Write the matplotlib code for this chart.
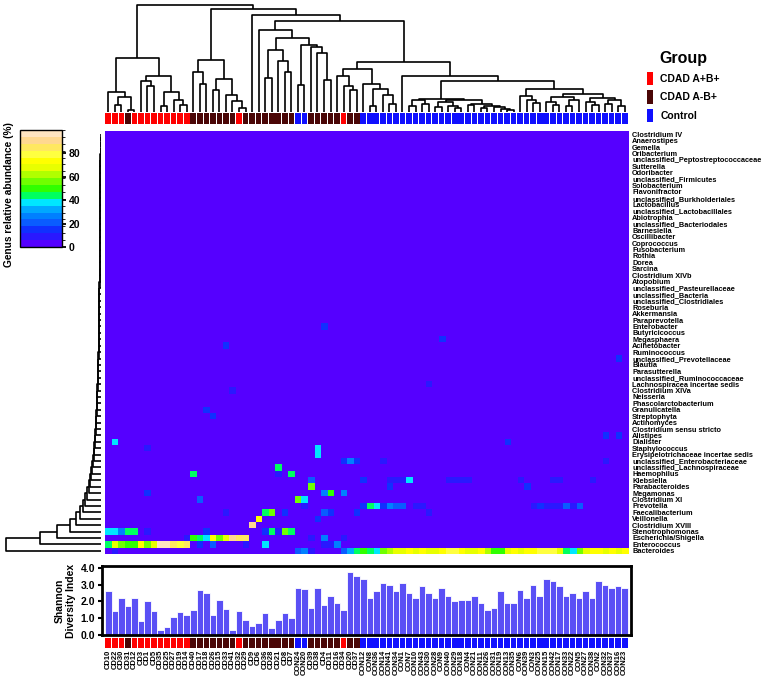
import numpy as np
import matplotlib.pyplot as plt
from matplotlib.colors import ListedColormap, BoundaryNorm
from matplotlib.patches import Patch
from matplotlib.ticker import FormatStrFormatter

plt.rcParams['font.family'] = ['Liberation Sans', 'DejaVu Sans']
plt.rcParams['font.weight'] = 'bold'

# ---- data ----
genera = ['Clostridium IV', 'Anaerostipes', 'Gemella', 'Oribacterium',
          'unclassified_Peptostreptococcaceae', 'Sutterella', 'Odoribacter',
          'unclassified_Firmicutes', 'Solobacterium', 'Flavonifractor',
          'unclassified_Burkholderiales', 'Lactobacillus', 'unclassified_Lactobacillales',
          'Abiotrophia', 'unclassified_Bacteriodales', 'Barnesiella', 'Oscillibacter',
          'Coprococcus', 'Fusobacterium', 'Rothia', 'Dorea', 'Sarcina', 'Clostridium XIVb',
          'Atopobium', 'unclassified_Pasteurellaceae', 'unclassified_Bacteria',
          'unclassified_Clostridiales', 'Roseburia', 'Akkermansia', 'Paraprevotella',
          'Enterobacter', 'Butyricicoccus', 'Megasphaera', 'Acinetobacter', 'Ruminococcus',
          'unclassified_Prevotellaceae', 'Blautia', 'Parasutterella',
          'unclassified_Ruminococcaceae', 'Lachnospiracea incertae sedis', 'Clostridium XIVa',
          'Neisseria', 'Phascolarctobacterium', 'Granulicatella', 'Streptophyta',
          'Actinomyces', 'Clostridium sensu stricto', 'Alistipes', 'Dialister',
          'Staphylococcus', 'Erysipelotrichaceae incertae sedis',
          'unclassified_Enterobacteriaceae', 'unclassified_Lachnospiraceae', 'Haemophilus',
          'Klebsiella', 'Parabacteroides', 'Megamonas', 'Clostridium XI', 'Prevotella',
          'Faecalibacterium', 'Veillonella', 'Clostridium XVIII', 'Stenotrophomonas',
          'Escherichia/Shigella', 'Enterococcus', 'Bacteroides']

samples = ['CD10', 'CD22', 'CD30', 'CD31', 'CD12', 'CD3', 'CD1', 'CD5', 'CD35', 'CD25',
           'CD27', 'CD19', 'CD14', 'CD40', 'CD17', 'CD18', 'CD26', 'CD15', 'CD33', 'CD41',
           'CD32', 'CD29', 'CD9', 'CD6', 'CD36', 'CD28', 'CD21', 'CD8', 'CD7', 'CON24',
           'CON20', 'CD39', 'CD38', 'CD4', 'CD11', 'CD16', 'CD34', 'CD20', 'CD37',
           'CON12', 'CON8', 'CON36', 'CON14', 'CON41', 'CON34', 'CON1', 'CON7', 'CON10',
           'CON43', 'CON30', 'CON28', 'CON9', 'CON40', 'CON29', 'CON18', 'CON4', 'CON21',
           'CON11', 'CON26', 'CON31', 'CON19', 'CON13', 'CON35', 'CON6', 'CON39', 'CON3',
           'CON25', 'CON15', 'CON42', 'CON17', 'CON33', 'CON22', 'CON5', 'CON27', 'CON38',
           'CON2', 'CON32', 'CON37', 'CON16', 'CON23']

# R = CDAD A+B+, D = CDAD A-B+, B = Control
groups = 'RRRDRRRRRRRRRDDDDDDDRDDDDDDDDBBDDDDDRDD' + 'BBBBBBBBBBBBBBBBBBBBBBBBBBBBBBBBBBBBBBBBB'

shannon = [2.6, 1.45, 2.2, 1.7, 2.2, 0.85, 2.0, 1.45, 0.3, 0.5, 1.05, 1.35, 1.2, 1.5, 2.65, 2.5,
           1.2, 2.1, 1.55, 0.3, 1.4, 0.9, 0.55, 0.7, 1.3, 0.4, 0.9, 1.3, 1.0, 2.8, 2.75, 1.6,
           2.8, 1.8, 2.3, 1.9, 1.5, 3.75, 3.5, 3.3, 2.2, 2.6, 3.1, 3.0, 2.6, 3.1, 2.5, 2.2,
           2.9, 2.5, 2.2, 2.8, 2.3, 2.0, 2.1, 2.1, 2.3, 1.9, 1.5, 1.6, 2.6, 1.9, 1.9, 2.7,
           2.2, 3.0, 2.3, 3.3, 3.2, 2.9, 2.3, 2.5, 2.2, 2.6, 2.2, 3.2, 3.0, 2.8, 2.9, 2.8]

bacteroides = [3, 6, 2, 0, 5, 0, 2, 4, 0, 0, 2, 3, 0, 1, 0, 3, 0, 2, 0, 0,
               0, 1, 0, 0, 3, 0, 0, 2, 0, 22, 28, 10, 5, 2, 0, 1, 18, 30, 42,
               48, 45, 38, 55, 62, 70, 68, 72, 65, 75, 70, 66, 72, 78, 80, 74, 70, 68, 72, 60,
               52, 48, 66, 74, 70, 76, 72, 80, 78, 82, 70, 45, 40, 55, 68, 72, 75, 70, 74, 68, 72]
enterococcus = [45, 68, 58, 48, 48, 72, 58, 68, 95, 95, 85, 82, 88,
                0, 12, 0, 18, 0, 0, 0, 0, 8, 0, 0, 38, 0, 0, 0, 0,
                0, 0, 0, 0, 8, 8, 25, 0, 0, 0,
                0, 0, 0, 0, 0, 0, 0, 0, 0, 0, 0, 0, 0, 0, 0, 0, 0, 0, 0, 0,
                0, 0, 0, 0, 0, 0, 0, 0, 0, 0, 0, 0, 0, 0, 0, 0, 0, 0, 0, 0, 0]
escherichia = [0, 0, 0, 0, 0, 0, 0, 0, 0, 0, 0, 0, 8,
               50, 45, 38, 72, 58, 68, 92, 85, 86, 0, 0, 0, 0, 0, 0, 0,
               0, 0, 8, 0, 25, 0, 0, 8, 0, 0,
               0, 0, 0, 0, 0, 0, 0, 0, 0, 0, 0, 0, 0, 0, 0, 0, 0, 0, 0, 0,
               0, 0, 0, 0, 0, 0, 0, 0, 0, 0, 0, 0, 0, 0, 0, 0, 0, 0, 0, 0, 0]
stenotrophomonas = [38, 38, 28, 45, 45, 0, 8, 0, 0, 0, 0, 0, 0,
                    0, 0, 12, 0, 0, 0, 0, 0, 0, 0, 0, 12, 45, 10, 55, 45,
                    0, 0, 0, 0, 0, 0, 0, 0, 0, 0,
                    0, 0, 0, 0, 0, 0, 0, 0, 0, 0, 0, 0, 0, 0, 0, 0, 0, 0, 0, 0,
                    0, 0, 0, 0, 0, 0, 0, 0, 0, 0, 0, 0, 0, 0, 0, 0, 0, 0, 0, 0, 0]

# other non-zero cells: (genus, sample column, abundance %)
other_cells = [
    ('Enterobacter', 33, 15), ('Acinetobacter', 18, 12), ('Megasphaera', 51, 12),
    ('unclassified_Prevotellaceae', 78, 12), ('Lachnospiracea incertae sedis', 49, 10),
    ('Granulicatella', 15, 15), ('Streptophyta', 16, 14), ('Clostridium XIVa', 19, 10),
    ('Dialister', 1, 38), ('Dialister', 61, 12), ('Alistipes', 76, 12), ('Alistipes', 78, 14),
    ('Staphylococcus', 6, 8), ('Staphylococcus', 32, 38),
    ('Erysipelotrichaceae incertae sedis', 32, 38),
    ('unclassified_Enterobacteriaceae', 36, 12), ('unclassified_Enterobacteriaceae', 37, 28),
    ('unclassified_Enterobacteriaceae', 38, 12), ('unclassified_Enterobacteriaceae', 42, 8),
    ('unclassified_Enterobacteriaceae', 76, 8),
    ('unclassified_Lachnospiraceae', 26, 45),
    ('Haemophilus', 13, 45), ('Haemophilus', 26, 10), ('Haemophilus', 28, 45),
    ('Klebsiella', 31, 20), ('Klebsiella', 39, 12), ('Klebsiella', 43, 8), ('Klebsiella', 44, 8),
    ('Klebsiella', 45, 8), ('Klebsiella', 46, 38), ('Klebsiella', 52, 8), ('Klebsiella', 53, 8),
    ('Klebsiella', 54, 8), ('Klebsiella', 55, 8), ('Klebsiella', 63, 8), ('Klebsiella', 68, 8),
    ('Klebsiella', 69, 8), ('Klebsiella', 74, 8),
    ('Parabacteroides', 31, 55), ('Parabacteroides', 43, 12), ('Parabacteroides', 64, 12),
    ('Megamonas', 6, 12), ('Megamonas', 33, 28), ('Megamonas', 34, 48), ('Megamonas', 36, 28),
    ('Clostridium XI', 14, 18), ('Clostridium XI', 29, 55), ('Clostridium XI', 30, 38),
    ('Prevotella', 30, 8), ('Prevotella', 39, 12), ('Prevotella', 40, 45), ('Prevotella', 41, 38),
    ('Prevotella', 42, 12), ('Prevotella', 43, 25), ('Prevotella', 44, 18), ('Prevotella', 45, 18),
    ('Prevotella', 47, 8), ('Prevotella', 48, 8), ('Prevotella', 65, 8), ('Prevotella', 66, 12),
    ('Prevotella', 67, 8), ('Prevotella', 68, 8), ('Prevotella', 69, 8), ('Prevotella', 70, 22),
    ('Prevotella', 71, 8), ('Prevotella', 72, 18),
    ('Faecalibacterium', 18, 8), ('Faecalibacterium', 24, 45), ('Faecalibacterium', 25, 55),
    ('Faecalibacterium', 27, 12), ('Faecalibacterium', 33, 18), ('Faecalibacterium', 34, 12),
    ('Faecalibacterium', 38, 12), ('Faecalibacterium', 49, 8),
    ('Veillonella', 23, 72), ('Veillonella', 32, 12),
    ('Clostridium XVIII', 22, 90),
]

# column dendrogram: (merge height, left, right), leaves = column index
col_left = (163, (60, 0, (45, (20, 1, 2), (7, 3, 4))),
            (107, (92, 5, (77, 6, 7)), (60, (17, 8, 9), (35, 10, (20, 11, 12)))))
col_mid = (157, (119, 13, (83, 14, 15)),
           (100, (67, 16, 17), (50, 18, (32, 19, (12, 20, 21)))))
col_a = (245, 23, (220, (185, (103, 24, 25), (152, 26, (120, 27, 28))),
                   (200, (80, 29, 30), (195, 31, (175, 32, (95, 33, 34))))))
col_b = (130, (107, 35, (77, 36, (65, 37, 38))),
         (85, 39, (70, (17, 40, 41), (50, 42, (25, 43, 44)))))
col_c = (40, (35, (17, 46, 47), (25, 48, 49)),
         (37, (30, (15, 50, 51), (17, 52, (13, 53, 54))),
          (25, (20, 55, 56), (17, (13, 57, 58), (15, 59, (10, 60, (7, 61, 62)))))))
col_d = (70, (47, 63, (35, 64, (27, 65, 66))),
         (55, (45, (30, 67, (20, 68, 69)), (35, (17, 70, 71), 72)),
          (43, (30, 73, (20, 74, 75)), (37, (25, 76, 77), (17, 78, 79)))))
col_tree = (320, col_left, (307, col_mid, (290, 22, (273, col_a, (150, col_b, (107, 45, (93, col_c, col_d)))))))

# row dendrogram: merge height of each next genus with the genera above it
row_merge = [0.3, 0.4, 0.5, 0.5, 0.6, 0.6, 0.7, 0.7, 0.8, 0.8, 0.9, 0.9, 1.0, 1.0, 1.1, 1.1,
             1.2, 1.2, 1.3, 1.3, 1.4, 1.4, 1.5, 1.5, 1.6, 1.6, 1.7, 1.8, 1.9, 2.0, 2.1, 2.2,
             2.3, 2.4, 2.5, 2.6, 2.8, 3.0, 3.2, 3.4, 3.6, 3.8, 4.0, 4.3, 4.6, 5.0, 5.4, 5.8,
             6.2, 6.8, 7.4, 8.0, 9.0, 10, 11, 12, 14, 16, 18, 21, 25, 32, 45, 62, 97]

cmap_colors = ['#5500ff', '#2a18ff', '#1030ff', '#0a5cff', '#0080ff', '#00a8ff', '#00e6ff',
               '#00ff60', '#30ff00', '#70ff00', '#b0ff00', '#e8ff00', '#ffff00', '#ffff40',
               '#ffe860', '#ffd890', '#ffe4c0']
group_colors = {'R': '#ff0000', 'D': '#4a0606', 'B': '#1010ff'}
group_names = {'R': 'CDAD A+B+', 'D': 'CDAD A-B+', 'B': 'Control'}

# ---- build matrix ----
data = np.zeros((len(genera), len(samples)))
data[genera.index('Bacteroides')] = bacteroides
data[genera.index('Enterococcus')] = enterococcus
data[genera.index('Escherichia/Shigella')] = escherichia
data[genera.index('Stenotrophomonas')] = stenotrophomonas
for g, c, v in other_cells:
    data[genera.index(g), c] = v

W, H = 777, 683
fig = plt.figure(figsize=(W / 100, H / 100), dpi=100)


def box(x0, y0, x1, y1):
    return fig.add_axes([x0 / W, 1 - y1 / H, (x1 - x0) / W, (y1 - y0) / H])


def draw_tree(ax, node, sideways=False):
    if isinstance(node, int):
        return node, 0
    h, a, b = node
    pa, ha = draw_tree(ax, a, sideways)
    pb, hb = draw_tree(ax, b, sideways)
    pos = [pa, pa, pb, pb]
    hts = [ha, h, h, hb]
    if sideways:
        ax.plot(hts, pos, color='black', lw=1.2, solid_capstyle='butt')
    else:
        ax.plot(pos, hts, color='black', lw=1.2, solid_capstyle='butt')
    return (pa + pb) / 2, h


n = len(samples)
x0, x1 = 105, 628

# heatmap
ax_h = box(x0, 131, x1, 554)
cmap = ListedColormap(cmap_colors)
norm = BoundaryNorm(np.linspace(0, 100, len(cmap_colors) + 1), cmap.N)
im = ax_h.imshow(data, aspect='auto', cmap=cmap, norm=norm, interpolation='nearest')
ax_h.set_xticks([])
ax_h.yaxis.tick_right()
ax_h.set_yticks(range(len(genera)))
ax_h.set_yticklabels(genera, fontsize=5.3)
ax_h.tick_params(axis='y', length=0, pad=3)
for s in ax_h.spines.values():
    s.set_visible(False)

# top dendrogram
ax_t = box(x0, 3, x1, 112)
draw_tree(ax_t, col_tree)
ax_t.set_xlim(-0.5, n - 0.5)
ax_t.set_ylim(0, 326)
ax_t.axis('off')

# left dendrogram (ladder)
row_tree = 0
for i, h in enumerate(row_merge):
    row_tree = (h, row_tree, i + 1)
ax_l = box(3, 131, 101, 554)
draw_tree(ax_l, row_tree, sideways=True)
ax_l.set_ylim(len(genera) - 0.5, -0.5)
ax_l.set_xlim(100, 0)
ax_l.axis('off')

# group strips
bar_cols = [group_colors[g] for g in groups]
for y0, y1 in [(113, 124), (638, 648)]:
    ax_g = box(x0, y0, x1, y1)
    ax_g.bar(range(n), 1, width=0.86, color=bar_cols)
    ax_g.set_xlim(-0.5, n - 0.5)
    ax_g.set_ylim(0, 1)
    ax_g.set_yticks([])
    for s in ax_g.spines.values():
        s.set_visible(False)
    if y0 > 600:
        ax_g.set_xticks(range(n))
        ax_g.set_xticklabels(samples, rotation=90, fontsize=5.5)
        ax_g.tick_params(axis='x', length=0, pad=1.5)
    else:
        ax_g.set_xticks([])

# shannon bars
ax_b = box(102, 566, 631, 635)
ax_b.bar(range(n), shannon, width=1.0, color='#5a50f5', edgecolor='white', linewidth=0.6)
ax_b.set_xlim(-0.96, n - 0.04)
ax_b.set_ylim(0, 4.1)
ax_b.set_yticks([0, 1, 2, 3, 4])
ax_b.yaxis.set_major_formatter(FormatStrFormatter('%.1f'))
ax_b.set_xticks([])
ax_b.tick_params(axis='y', labelsize=7.5, width=1.5, length=3, pad=2)
for s in ax_b.spines.values():
    s.set_linewidth(2)
ax_b.set_ylabel('Shannon\nDiversity Index', fontsize=7.5, fontweight='bold', labelpad=3)

# colorbar
ax_c = box(20, 130, 62, 247)
cb = fig.colorbar(im, cax=ax_c, ticks=[0, 20, 40, 60, 80])
cb.outline.set_linewidth(1)
ax_c.tick_params(labelsize=7.5, width=1.3, length=3, pad=2)
fig.text(9 / W, 1 - 195 / H, 'Genus relative abundance (%)', rotation=90, fontsize=7.3,
         fontweight='bold', ha='center', va='center')

# legend
handles = [Patch(facecolor=group_colors[k], edgecolor='none') for k in 'RDB']
leg = fig.legend(handles, [group_names[k] for k in 'RDB'], title='Group',
                 loc='upper left', bbox_to_anchor=(638 / W, 1 - 42 / H), frameon=False,
                 handlelength=0.55, handleheight=1.6, handletextpad=0.7, labelspacing=0.5,
                 prop={'size': 7.5, 'weight': 'bold'},
                 title_fontproperties={'size': 11.5, 'weight': 'bold'})

fig.savefig('out.png', dpi=100)
